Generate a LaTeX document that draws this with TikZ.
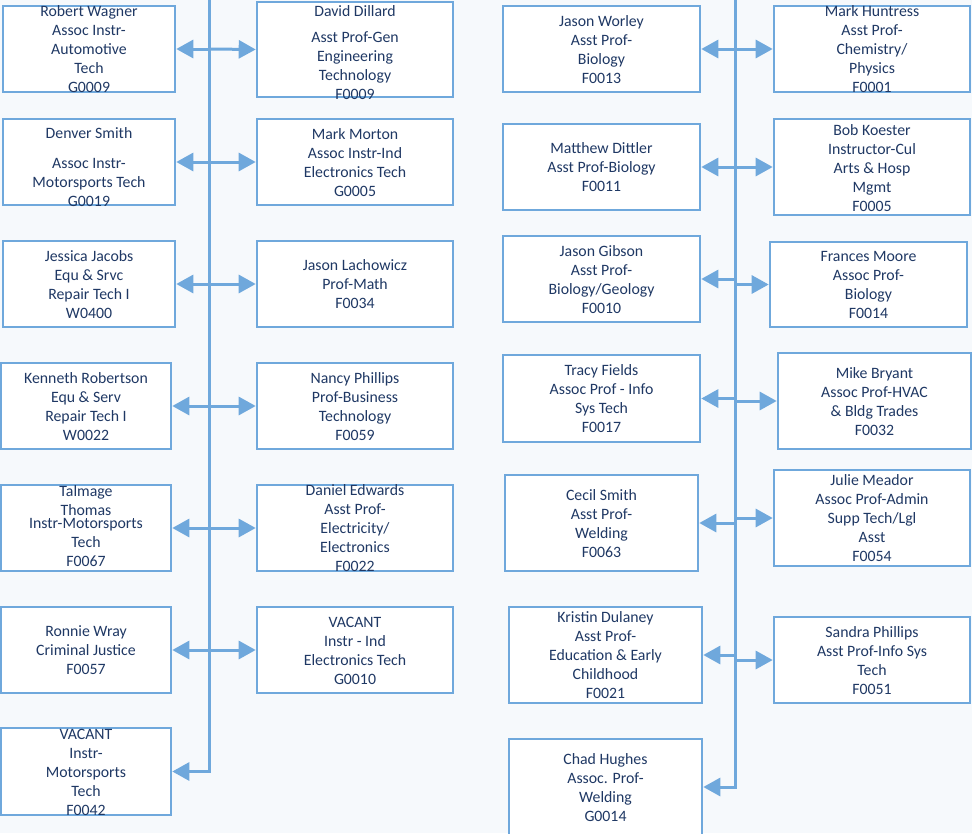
\documentclass[tikz,border=0pt]{standalone}
\usepackage{fontspec}
\setmainfont{Carlito}
\usetikzlibrary{arrows.meta}
\definecolor{bgc}{HTML}{F6F9FC}
\definecolor{linec}{HTML}{6FA8DC}
\definecolor{txtc}{HTML}{1F3864}
\tikzset{
  pbx/.style={draw=linec, line width=2.6pt, fill=white, rectangle, inner sep=0pt},
  ptx/.style={inner sep=0pt, text=txtc, yshift=-2pt, font=\fontsize{15.8pt}{19pt}\selectfont},
  conn/.style={draw=linec, line width=3pt, -{Triangle[length=17pt,width=18pt]}},
  trunk/.style={draw=linec, line width=3pt},
}
% name, cx, cy, w, h, text-center y, text
\newcommand\pbox[7]{%
  \node[pbx, minimum width=#4pt, minimum height=#5pt] (#1) at (#2,#3) {};
  \node[ptx] (#1-t) at (#2,#6) {\begin{tabular}{@{}c@{}}#7\end{tabular}};
}
\begin{document}
\begin{tikzpicture}[x=1pt,y=-1pt]
\useasboundingbox (0,0) rectangle (972,833);
\clip (0,0) rectangle (972,833);
\fill[bgc] (0,0) rectangle (972,833);

% trunk anchors
\coordinate (tL) at (209,-5);
\coordinate (tR) at (735,-5);

% ---------- left group, column A ----------
\pbox{rw}{89}{49}{172}{86}{49}{Robert Wagner\\Assoc Instr-\\Automotive\\Tech\\G0009}
\pbox{ds}{89}{162}{172}{86}{167}{Denver Smith\\[11pt]Assoc Instr-\\Motorsports Tech\\G0019}
\pbox{jj}{89}{284}{172}{86}{284}{Jessica Jacobs\\Equ \& Srvc\\Repair Tech I\\W0400}
\pbox{kr}{86}{406}{170}{86}{406}{Kenneth Robertson\\Equ \& Serv\\Repair Tech I\\W0022}
\pbox{tt}{86}{528}{170}{86}{525.5}{Talmage\\Thomas\\[-6pt]Instr-Motorsports\\Tech\\F0067}
\pbox{rwr}{86}{650}{170}{86}{650}{Ronnie Wray\\Criminal Justice\\F0057}
\pbox{vaa}{86}{771.5}{170}{87}{772}{VACANT\\Instr-\\Motorsports\\Tech\\F0042}

% ---------- left group, column B ----------
\pbox{dd}{355}{49.5}{196}{95}{52.5}{David Dillard\\[7pt]Asst Prof-Gen\\Engineering\\Technology\\F0009}
\pbox{mm}{355}{162}{196}{86}{162}{Mark Morton\\Assoc Instr-Ind\\Electronics Tech\\G0005}
\pbox{jl}{355}{284}{196}{86}{284}{Jason Lachowicz\\Prof-Math\\F0034}
\pbox{np}{355}{406}{196}{86}{406}{Nancy Phillips\\Prof-Business\\Technology\\F0059}
\pbox{de}{355}{528}{196}{86}{528}{Daniel Edwards\\Asst Prof-\\Electricity/\\Electronics\\F0022}
\pbox{vab}{355}{650}{196}{86}{650}{VACANT\\Instr - Ind\\Electronics Tech\\G0010}

% ---------- right group, column C ----------
\pbox{jw}{601.5}{49}{197}{86}{49}{Jason Worley\\Asst Prof-\\Biology\\F0013}
\pbox{md}{601.5}{167}{197}{86}{167}{Matthew Dittler\\Asst Prof-Biology\\F0011}
\pbox{jg}{601.5}{279}{197}{86}{279}{Jason Gibson\\Asst Prof-\\Biology/Geology\\F0010}
\pbox{tf}{601.5}{398.5}{197}{87}{398.5}{Tracy Fields\\Assoc Prof - Info\\Sys Tech\\F0017}
\pbox{cs}{601.5}{523}{193}{96}{523}{Cecil Smith\\Asst Prof-\\Welding\\F0063}
\pbox{kd}{605.5}{655}{193}{96}{655}{Kristin Dulaney\\Asst Prof-\\Education \& Early\\Childhood\\F0021}
\pbox{ch}{605.5}{787}{193}{96}{787}{Chad Hughes\\Assoc. Prof-\\Welding\\G0014}

% ---------- right group, column D ----------
\pbox{mh}{872}{49}{196}{86}{49}{Mark Huntress\\Asst Prof-\\Chemistry/\\Physics\\F0001}
\pbox{bk}{872}{167}{196}{96}{167.5}{Bob Koester\\Instructor-Cul\\Arts \& Hosp\\Mgmt\\F0005}
\pbox{fm}{868.5}{284.5}{197}{85}{284}{Frances Moore\\Assoc Prof-\\Biology\\F0014}
\pbox{mb}{874.5}{401}{193}{96}{401}{Mike Bryant\\Assoc Prof-HVAC\\\& Bldg Trades\\F0032}
\pbox{jm}{872}{518}{196}{96}{517.5}{Julie Meador\\Assoc Prof-Admin\\Supp Tech/Lgl\\Asst\\F0054}
\pbox{sp}{872}{660}{196}{86}{660}{Sandra Phillips\\Asst Prof-Info Sys\\Tech\\F0051}

% ---------- trunks ----------
\draw[conn] (tL) |- (vaa.east);
\draw[conn] (tR) |- (ch.east);

% ---------- left group connectors ----------
\foreach \a/\b in {rw/dd, ds/mm, jj/jl, kr/np, tt/de, rwr/vab}{
  \draw[conn] (tL |- \a.east) -- (\a.east);
  \draw[conn] (tL |- \a.east) -- (\b.west);
}
% ---------- right group connectors ----------
\foreach \a in {jw, md, jg, tf, cs, kd}{
  \draw[conn] (tR |- \a.east) -- (\a.east);
}
\foreach \b in {mh, bk, fm, mb, jm, sp}{
  \draw[conn] (tR |- \b.west) -- (\b.west);
}
\end{tikzpicture}
\end{document}
